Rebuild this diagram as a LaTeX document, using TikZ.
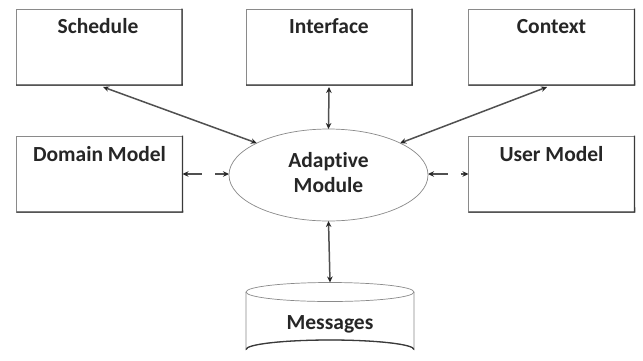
\documentclass[tikz,border=0pt]{standalone}
\usepackage{fontspec}
\setmainfont{Carlito}[Ligatures={NoCommon,NoContextual}]
\usetikzlibrary{arrows.meta,shapes.geometric}
\definecolor{edgegray}{HTML}{8A8A8A}
\definecolor{shadegray}{HTML}{3A3A3A}
\definecolor{arrowgray}{HTML}{505050}
\begin{document}
\begin{tikzpicture}[x=1pt,y=-1pt,
  box/.style={draw=edgegray, line width=0.7pt, fill=white, minimum width=166pt, minimum height=76pt, inner sep=0pt, outer sep=0pt},
  lbl/.style={font=\fontsize{21.5}{25}\selectfont\bfseries, text=black!85, inner sep=0pt, anchor=base},
  shade/.style={draw=shadegray, line width=1.3pt},
  conn/.style={draw=arrowgray, line width=1.5pt, {Stealth[length=6pt,width=5.5pt,color=black!85]}-{Stealth[length=6pt,width=5.5pt,color=black!85]}},
  dconn/.style={conn, dash pattern=on 16pt off 13pt}
]
\useasboundingbox (0,0) rectangle (643,360);
\fill[white] (0,0) rectangle (643,360);

% boxes
\node[box] (sch) at (99,47) {};
\node[box] (int) at (329,47) {};
\node[box] (ctx) at (551.5,47) {};
\node[box] (dom) at (99.5,174) {};
\node[box] (usr) at (551.5,174) {};
\foreach \n in {sch,int,ctx,dom,usr}{
  \draw[shade] ([yshift=0.3pt]\n.north east) -- ([xshift=0.1pt]\n.south east) -- (\n.south west);
}
\node[lbl] (schT) at (98,33.5) {Schedule};
\node[lbl] (intT) at (329,33.5) {Interface};
\node[lbl] (ctxT) at (551.5,33.5) {Context};
\node[lbl] (domT) at (99.5,161) {Domain Model};
\node[lbl] (usrT) at (551.5,161) {User Model};

% ellipse
\node[draw=edgegray, line width=0.7pt, ellipse, minimum width=199pt, minimum height=92pt, inner sep=0pt, outer sep=0pt] (ad) at (328.5,175) {};
\node[lbl, align=center, anchor=center] (adT) at (328.5,173) {Adap{}tive\\Module};

% cylinder
\coordinate (msgtop) at (330,282.5);
\filldraw[draw=edgegray, fill=white, line width=0.7pt] (246,292) -- (246,349.5) arc[start angle=180, end angle=360, x radius=84, y radius=9.5] -- (414,292);
\draw[edgegray, line width=0.7pt] (330,292) ellipse[x radius=84, y radius=9.5];
\draw[shade] (246,349.5) arc[start angle=180, end angle=360, x radius=84, y radius=9.5];
\node[lbl] (msg) at (330,329) {Messages};

% connectors
\path (sch.south) ++(4pt,-2pt) coordinate (s1);
\path (int.south) ++(0,-2pt) coordinate (i1);
\path (ctx.south) ++(-4.5pt,-2pt) coordinate (c1);
\draw[conn] (s1) -- (ad.156);
\draw[conn] (i1) -- (ad.north);
\draw[conn] (c1) -- (ad.24);
\draw[conn] (ad.south) -- (msgtop);
\draw[dconn] (dom.east) -- (dom.east -| ad.west);
\draw[dconn] (usr.west -| ad.east) -- (usr.west);
\end{tikzpicture}
\end{document}
